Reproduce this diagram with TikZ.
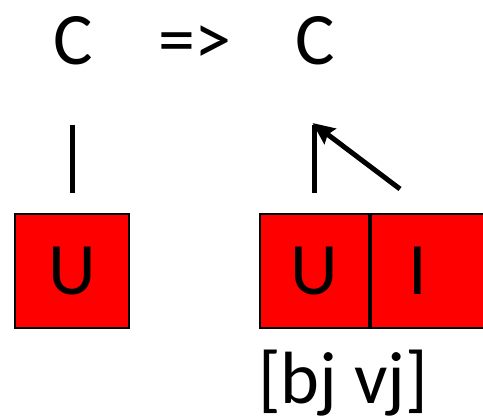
\documentclass[tikz,border=0pt]{standalone}
\usepackage{fontspec}
\setmainfont{Carlito}
\usetikzlibrary{arrows.meta,positioning,calc}

\begin{document}
\begin{tikzpicture}[x=1pt, y=1pt, every node/.style={font=\fontsize{74}{80}\selectfont, inner sep=0pt},
    cell/.style={draw, line width=2pt, fill=red, minimum height=114pt},
    stick/.style={line width=5pt}]
    \useasboundingbox (0,0) rectangle (483,-419);
    % top row
    \node[anchor=base] (cl) at (73,-65) {C};
    \node[anchor=base] (imp) at (195,-65) {=>};
    \node[anchor=base] (cr) at (315.5,-65) {C};
    % boxes
    \node[cell, minimum width=114pt] (ul) at (72,-271) {U};
    \node[cell, minimum width=109pt] (ur) at (314.5,-271) {U};
    \node[cell, minimum width=114pt, anchor=west, label={[xshift=-10pt]center:I}] (ir) at (ur.east) {};
    \node[anchor=base] (vec) at (343,-403.5) {[bj vj]};
    % links
    \coordinate (top) at ($(ur.north)+(-2,90)$);
    \coordinate (foot) at (400,-189);
    \draw[stick, shorten <=20pt, shorten >=59pt] (ul.north) -- (ul.north |- cl.south);
    \draw[stick, shorten <=20pt, shorten >=59pt] (ur.north) -- (ur.north |- cr.south);
    \draw[stick, -{Stealth[length=22pt, width=19pt, inset=3pt]}] (foot) -- (top);
\end{tikzpicture}
\end{document}
